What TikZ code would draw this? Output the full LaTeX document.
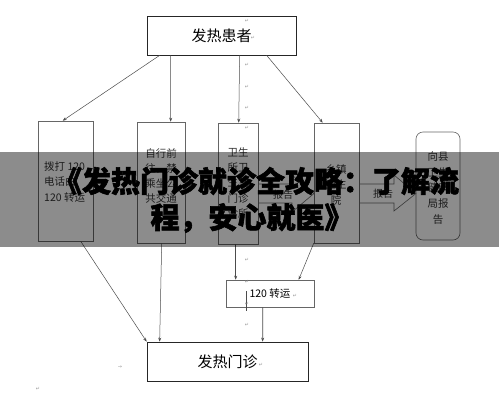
\documentclass[tikz,border=0pt]{standalone}
\usepackage{fontspec}
\setmainfont{Noto Sans CJK SC}
\newfontfamily\symfont{DejaVu Sans}
\newfontfamily\titlefont[FakeBold=2]{Noto Sans CJK SC}
\usetikzlibrary{arrows.meta,calc}
\begin{document}
\begin{tikzpicture}[x=1pt,y=-1pt,
  box/.style={draw=black!85,line width=0.7pt,inner sep=0pt},
  tall/.style={draw=black!60,line width=0.6pt,inner sep=0pt},
  lbl/.style={font=\fontsize{10.5}{15.2}\selectfont,text=black!80,align=center,inner sep=0pt},
  con/.style={draw=black!70,line width=0.5pt,-{Stealth[length=4pt,width=3pt]}},
  ret/.style={font=\symfont\fontsize{5}{5}\selectfont,text=black!40,inner sep=0pt},
  blockarrow/.style={draw=black!60,line width=0.6pt},
  titletext/.style={font=\titlefont\fontsize{29}{29}\selectfont\bfseries,text=black,inner sep=0pt}]
\useasboundingbox (0,0) rectangle (499,400);
\fill[white] (0,0) rectangle (499,400);

% boxes
\node[box,minimum width=149pt,minimum height=39pt,font=\fontsize{15}{15}\selectfont] (top) at (221.5,35.5) {发热患者};
\node[tall,minimum width=55pt,minimum height=120pt] (b1) at (65.5,181) {};
\node[tall,minimum width=48pt,minimum height=121pt] (b2) at (161,182.5) {};
\node[tall,minimum width=40pt,minimum height=121pt] (b3) at (238,183.5) {};
\node[tall,minimum width=45pt,minimum height=120pt] (b4) at (336.5,183) {};
\node[tall,rounded corners=7pt,minimum width=44pt,minimum height=108pt] (b5) at (438,186) {};
\node[tall,minimum width=88pt,minimum height=27pt,font=\fontsize{10.5}{10.5}\selectfont] (t120) at (270,293.5) {120 转运};
\node[box,minimum width=161pt,minimum height=39pt,font=\fontsize{15}{15}\selectfont] (bottom) at (227.5,361.5) {发热门诊};

% box texts
\node[lbl,align=left,anchor=west] (x1) at (44,182) {拨打 120\\电话由\\120 转运};
\node[lbl] (x2) at (161,176) {自行前\\往，禁\\乘坐公\\共交通};
\node[lbl] (x3) at (238,183) {卫生\\所卫\\生室\\门诊\\诊所};
\node[lbl] (x4) at (336,185) {乡镇\\卫生\\院};
\node[lbl,font=\fontsize{10.5}{15.8}\selectfont] (x5) at (438,188) {向县\\卫生\\健康\\局报\\告};

% connectors
\draw[con] ([xshift=13pt]top.south west) -- ([xshift=25pt]b1.north west);
\draw[con] ([xshift=24pt]top.south west) -- ([xshift=34pt]b2.north west);
\draw[con] ([xshift=93pt]top.south west) -- ([xshift=21pt]b3.north west);
\draw[con] ([xshift=120pt]top.south west) -- ([xshift=9pt]b4.north west);
\draw[con] ([xshift=43pt]b1.south west) -- (bottom.north west);
\draw[con] ([xshift=25pt]b2.south west) -- ([xshift=13pt]bottom.north west);
\draw[con] ([xshift=18pt]b3.south west) -- ([xshift=10pt]t120.north west);
\draw[con] ([xshift=0pt]b4.south west) -- ([xshift=73pt]t120.north west);
\draw[con,line width=0.7pt] ([xshift=37pt]t120.south west) -- ([xshift=116pt]bottom.north west);

% block arrows
\draw[blockarrow] (258,184) -- (292,184) -- (292,175) -- (314,193.5) -- (292,212) -- (292,203) -- (258,203);
\node[lbl,font=\fontsize{10}{10}\selectfont] (r1) at (283,195) {报告};
\draw[blockarrow] (359,184) -- (394,184) -- (394,175) -- (416,193.5) -- (394,211) -- (394,203) -- (359,203);
\node[lbl,font=\fontsize{10}{10}\selectfont] (r2) at (383,193.5) {报告};

% cursor mark
\draw[black!70,line width=0.6pt] (246,291) -- (246,311);

% paragraph marks
\node[ret] (p1) at (247,21) {↵};
\node[ret] (p2) at (253,38) {↵};
\node[ret] (p3) at (247,65) {↵};
\node[ret] (p4) at (247,87) {↵};
\node[ret] (p5) at (247,108) {↵};
\node[ret] (p6) at (247,128) {↵};
\node[ret] (p7) at (247,260) {↵};
\node[ret] (p8) at (247,282) {↵};
\node[ret] (p9) at (247,304) {↵};
\node[ret] (p10) at (247,325) {↵};
\node[ret] (p11) at (261,365) {↵};
\node[ret] (p12) at (295,296) {↵};
\node[ret] (p13) at (120,367) {→};
\node[ret] (p14) at (38,389) {↵};

% overlay band and title
\fill[black,opacity=0.45] (0,152) rectangle (499,247);
\node[titletext] (tl1) at (256,181) {《发热门诊就诊全攻略：了解流};
\node[titletext] (tl2) at (252,218) {程，安心就医》};
\end{tikzpicture}
\end{document}
